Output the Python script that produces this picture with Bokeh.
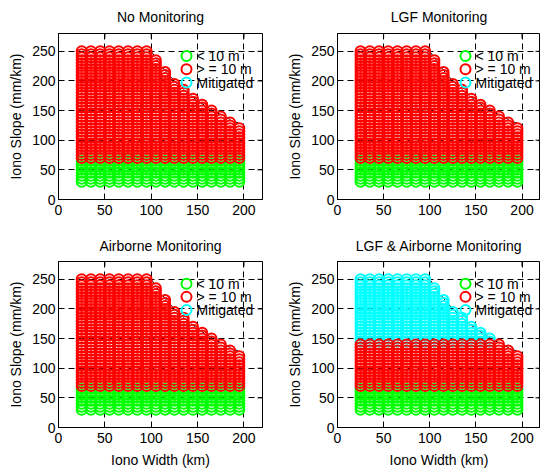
from bokeh.plotting import figure
from bokeh.layouts import column, row
from bokeh.models import ColumnDataSource, Range1d, FixedTicker
from bokeh.core.properties import value
from bokeh.embed import file_html
from bokeh.resources import INLINE

# Test grid: ionosphere front width (km) and slope (mm/km)
widths = [25, 35, 45, 55, 65, 75, 85, 95, 105, 115,
          125, 135, 145, 155, 165, 175, 185, 195]
slopes = [30, 35, 40, 45, 50, 55, 60, 65, 70, 75, 80, 85, 90, 95, 100,
          105, 110, 115, 120, 125, 130, 135, 140, 145, 150, 155, 160, 165,
          170, 175, 180, 185, 190, 195, 200, 205, 210, 215, 220, 225, 230,
          235, 240, 245, 250]
# highest slope tested for each width
max_slope = [250, 250, 250, 250, 250, 250, 250, 250, 235, 215,
             195, 185, 170, 160, 150, 140, 130, 120]

# threat-space limit (dashed curve)
limit_width = [100, 110, 120, 130, 140, 150, 160, 170, 180, 190, 200]
limit_slope = [250.0, 227.3, 208.3, 192.3, 178.6, 166.7, 156.3, 147.1,
               138.9, 131.6, 125.0]

titles = ["No Monitoring", "LGF Monitoring",
          "Airborne Monitoring", "LGF & Airborne Monitoring"]
small_error_max = [65, 65, 65, 65]          # slopes with error < 10 m
mitigated_min = [None, None, None, 145]     # slopes removed by monitoring

labels = ["< 10 m", "> = 10 m", "Mitigated"]
colors = ["#00ff00", "#ff0000", "#00ffff"]

x_ticks = [0, 50, 100, 150, 200]
y_ticks = [0, 50, 100, 150, 200, 250]
x_max, y_max = 220, 280

FONT = "Liberation Sans"


def classify(k):
    groups = {0: ([], []), 1: ([], []), 2: ([], [])}
    for w, top in zip(widths, max_slope):
        for s in slopes:
            if s > top:
                continue
            if s <= small_error_max[k]:
                g = 0
            elif mitigated_min[k] is not None and s >= mitigated_min[k]:
                g = 2
            else:
                g = 1
            groups[g][0].append(w)
            groups[g][1].append(s)
    return groups


def make_panel(k, left, right, top, bottom, w, h, xlabel, title_standoff):
    p = figure(width=w, height=h, output_backend="svg", toolbar_location=None,
               x_range=Range1d(0, x_max), y_range=Range1d(0, y_max),
               min_border_left=left, min_border_right=right,
               min_border_top=top, min_border_bottom=bottom,
               background_fill_color="white", border_fill_color="white",
               outline_line_color="black", outline_line_width=1)
    p.title.text = titles[k]
    p.title.align = "center"
    p.title.vertical_align = "top"
    p.title.text_font = FONT
    p.title.text_font_size = "14px"
    p.title.text_font_style = "normal"
    p.title.text_color = "black"
    p.title.standoff = title_standoff

    xt = FixedTicker(ticks=x_ticks)
    yt = FixedTicker(ticks=y_ticks)
    p.xaxis.ticker = xt
    p.yaxis.ticker = yt
    for ax in list(p.xaxis) + list(p.yaxis):
        ax.major_tick_in = 5
        ax.major_tick_out = 0
        ax.minor_tick_line_color = None
        ax.axis_line_color = "black"
        ax.major_tick_line_color = "black"
        ax.major_label_text_font = FONT
        ax.major_label_text_font_size = "14px"
        ax.major_label_text_color = "black"
        ax.axis_label_text_font = FONT
        ax.axis_label_text_font_size = "14px"
        ax.axis_label_text_font_style = "normal"
        ax.axis_label_text_color = "black"
    p.xaxis.major_label_standoff = 5
    p.yaxis.major_label_standoff = 3
    p.yaxis.axis_label = "Iono Slope (mm/km)"
    p.yaxis.axis_label_standoff = 5
    if xlabel:
        p.xaxis.axis_label = "Iono Width (km)"
        p.xaxis.axis_label_standoff = 6

    for g in (p.xgrid, p.ygrid):
        g.grid_line_color = "black"
        g.grid_line_dash = "6 4"
        g.grid_line_width = 1
    p.xgrid.ticker = xt
    p.ygrid.ticker = yt

    # inward ticks on the top and right sides of the box (clipped to frame)
    p.scatter(x_ticks, [y_max] * len(x_ticks), marker="dash", size=10,
              angle=1.5708, line_color="black", line_width=1)
    p.scatter([x_max] * len(y_ticks), y_ticks, marker="dash", size=10,
              line_color="black", line_width=1)

    p.line(limit_width, limit_slope, line_color="black", line_width=1,
           line_dash="6 4")

    groups = classify(k)
    for g in (0, 2, 1):
        src = ColumnDataSource(dict(x=groups[g][0], y=groups[g][1]))
        p.scatter("x", "y", source=src, marker="circle", size=10,
                  fill_color=None, line_color=colors[g], line_width=2)

    # legend box in the upper right, placed in pixels from the frame corner
    fw = w - left - right
    fh = h - top - bottom
    px_x = x_max / fw
    px_y = y_max / fh
    rows_y = [y_max - (22.5 + 13.3 * i) * px_y for i in range(3)]
    p.scatter([128 * px_x] * 3, rows_y, marker="circle", size=10,
              fill_color=None, line_color=colors, line_width=2)
    p.text([138 * px_x] * 3, rows_y, text=labels,
           text_font=value(FONT), text_font_size="14px",
           text_color="black", text_baseline="middle", text_align="left")
    return p


p1 = make_panel(0, 58, 8, 33, 31, 270, 230, False, 14)
p2 = make_panel(1, 67, 0, 33, 31, 270, 230, False, 14)
p3 = make_panel(2, 58, 8, 31, 41, 270, 240, True, 12)
p4 = make_panel(3, 67, 0, 31, 41, 270, 240, True, 12)

layout = column(row(p1, p2), row(p3, p4))
open("out.html", "w").write(file_html(layout, INLINE))
